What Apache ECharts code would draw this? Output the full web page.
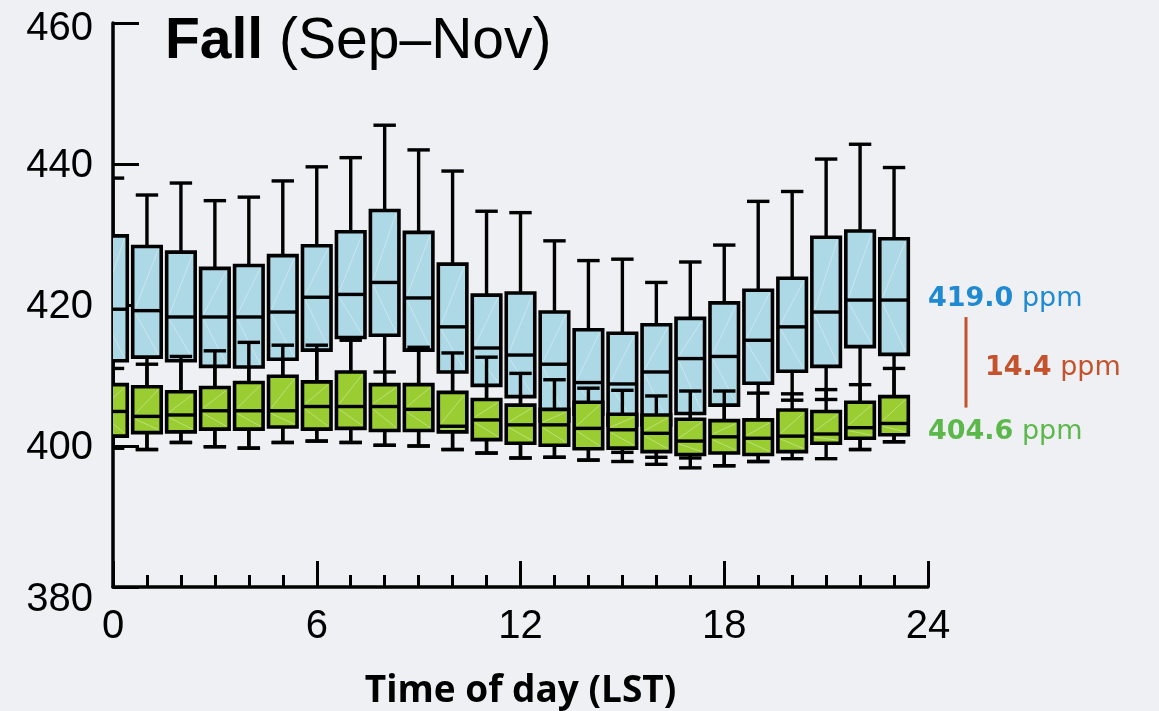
<!DOCTYPE html>
<html>
<head>
<meta charset="utf-8">
<script src="https://cdn.jsdelivr.net/npm/echarts@6/dist/echarts.min.js"></script>
<style>
  html, body { margin: 0; padding: 0; background: #eef0f3; }
  #chart { width: 1159px; height: 711px; }
</style>
</head>
<body>
<div id="chart"></div>
<script>
// Hour of day (local standard time)
const HOURS = [0, 1, 2, 3, 4, 5, 6, 7, 8, 9, 10, 11, 12, 13, 14, 15, 16, 17, 18, 19, 20, 21, 22, 23];

// Urban site CO2 (ppm): whisker ends, quartiles and medians per hour
const urbanHigh   = [438.0, 435.6, 437.3, 434.8, 435.3, 437.6, 439.6, 440.9, 445.5, 442.0, 439.0, 433.3, 433.1, 429.1, 426.3, 426.5, 423.2, 426.1, 428.5, 434.7, 436.1, 440.7, 442.8, 439.5];
const urbanQ3     = [429.8, 428.3, 427.5, 425.2, 425.6, 427.0, 428.4, 430.4, 433.4, 430.3, 425.8, 421.4, 421.7, 419.0, 416.5, 416.0, 417.2, 418.1, 420.3, 422.1, 423.8, 429.6, 430.5, 429.4];
const urbanMedian = [419.4, 419.2, 418.3, 418.3, 418.3, 419.0, 421.1, 421.5, 423.2, 421.0, 416.9, 413.9, 412.9, 411.6, 409.0, 408.8, 410.5, 412.4, 412.7, 415.0, 416.9, 419.0, 420.7, 420.7];
const urbanQ1     = [412.1, 412.6, 412.1, 411.3, 411.2, 412.3, 413.6, 415.4, 415.7, 413.6, 410.5, 408.6, 407.0, 403.5, 404.5, 403.0, 403.0, 404.6, 405.8, 408.9, 410.6, 411.3, 414.1, 413.0];
const urbanLow    = [399.7, 399.5, 400.5, 399.9, 399.7, 400.5, 400.7, 400.5, 400.1, 400.0, 399.5, 399.0, 398.3, 398.4, 398.0, 397.8, 397.4, 396.9, 397.2, 397.8, 406.5, 406.6, 399.5, 400.6];

// Background site CO2 (ppm)
const ruralHigh   = [411.0, 411.6, 412.7, 413.5, 414.7, 414.3, 414.3, 415.0, 410.5, 414.0, 413.2, 412.6, 410.3, 409.4, 408.2, 407.9, 407.1, 407.8, 407.8, 407.5, 407.4, 408.0, 408.7, 411.0];
const ruralQ3     = [408.7, 408.4, 407.7, 408.3, 409.0, 409.9, 409.1, 410.5, 408.7, 408.7, 407.6, 406.6, 405.8, 405.2, 406.2, 404.5, 404.4, 403.8, 403.6, 403.7, 405.1, 404.9, 406.2, 407.0];
const ruralMedian = [404.9, 404.2, 404.4, 405.0, 405.0, 405.0, 405.6, 405.6, 405.6, 405.2, 402.8, 403.7, 403.0, 403.0, 402.5, 402.3, 401.8, 400.7, 401.3, 401.1, 401.4, 401.7, 402.6, 403.2];
const ruralQ1     = [401.4, 401.9, 402.0, 402.4, 402.4, 402.7, 402.4, 402.5, 402.2, 402.2, 402.0, 400.9, 400.4, 400.1, 399.6, 399.7, 399.2, 398.8, 399.0, 398.8, 399.2, 400.4, 401.1, 401.6];
const ruralLow    = [399.7, 399.5, 400.5, 399.9, 399.7, 400.5, 400.7, 400.5, 400.1, 400.0, 399.5, 399.0, 398.3, 398.4, 398.0, 399.1, 398.4, 398.3, 397.2, 397.8, 398.2, 398.2, 399.5, 400.6];

// Seasonal means shown at the right
const URBAN_MEAN = 419.0;
const RURAL_MEAN = 404.6;
const MEAN_DIFF = 14.4;

// Axis ticks
const X_TICKS = [0, 6, 12, 18, 24];
const Y_TICKS = [380, 400, 420, 440, 460];

const URBAN_FILL = '#add8e6';
const RURAL_FILL = '#9acd32';

function rows(low, q1, med, q3, high) {
  return HOURS.map((h, i) => [h, low[i], q1[i], med[i], q3[i], high[i]]);
}

function boxRenderer(fill) {
  return function (params, api) {
    const x = api.value(0);
    const pLow = api.coord([x, api.value(1)]);
    const pQ1 = api.coord([x, api.value(2)]);
    const pMed = api.coord([x, api.value(3)]);
    const pQ3 = api.coord([x, api.value(4)]);
    const pHigh = api.coord([x, api.value(5)]);
    const unit = api.size([1, 0])[0];
    const bw = unit * 0.84;
    const cw = unit * 0.66;
    const cx = pQ1[0];
    const left = cx - bw / 2, right = cx + bw / 2;
    const ink = { stroke: '#000', lineWidth: 3.4 };
    const sheen = { stroke: 'rgba(255,255,255,0.35)', lineWidth: 1 };
    return {
      type: 'group',
      children: [
        { type: 'line', shape: { x1: cx, y1: pQ3[1], x2: cx, y2: pHigh[1] }, style: ink },
        { type: 'line', shape: { x1: cx - cw / 2, y1: pHigh[1], x2: cx + cw / 2, y2: pHigh[1] }, style: ink },
        { type: 'line', shape: { x1: cx, y1: pQ1[1], x2: cx, y2: pLow[1] }, style: ink },
        { type: 'line', shape: { x1: cx - cw / 2, y1: pLow[1], x2: cx + cw / 2, y2: pLow[1] }, style: ink },
        { type: 'rect', shape: { x: left, y: pQ3[1], width: bw, height: pQ1[1] - pQ3[1] },
          style: { fill: fill, stroke: '#000', lineWidth: 3.6 } },
        { type: 'line', shape: { x1: left + 3, y1: pMed[1] - 3, x2: right - 3, y2: pQ3[1] + 3 }, style: sheen },
        { type: 'line', shape: { x1: left + 3, y1: pMed[1] + 3, x2: right - 3, y2: pQ1[1] - 3 }, style: sheen },
        { type: 'line', shape: { x1: left, y1: pMed[1], x2: right, y2: pMed[1] }, style: ink }
      ]
    };
  };
}

const chart = echarts.init(document.getElementById('chart'), null, { renderer: 'canvas' });

const FONT = '"Liberation Sans", Arial, Helvetica, sans-serif';

chart.setOption({
  backgroundColor: '#eef0f3',
  animation: false,
  grid: { left: 113, top: 23, width: 815, height: 564, containLabel: false, outerBoundsMode: 'none' },
  xAxis: {
    type: 'value',
    min: X_TICKS[0],
    max: X_TICKS[X_TICKS.length - 1],
    interval: 6,
    name: 'Time of day (LST)',
    nameLocation: 'middle',
    nameGap: 86,
    nameTextStyle: { fontFamily: '"Open Sans", sans-serif', fontWeight: 'bold', fontSize: 37, color: '#000' },
    axisLine: { show: true, onZero: false, lineStyle: { color: '#000', width: 3.5 } },
    axisTick: { show: true, inside: true, length: 26, lineStyle: { color: '#000', width: 3 } },
    minorTick: { show: true, splitNumber: 6, length: 12, lineStyle: { color: '#000', width: 3 } },
    axisLabel: { fontFamily: FONT, fontSize: 40, color: '#000', margin: 20 },
    splitLine: { show: false },
    minorSplitLine: { show: false }
  },
  yAxis: {
    type: 'value',
    min: Y_TICKS[0],
    max: Y_TICKS[Y_TICKS.length - 1],
    interval: 20,
    axisLine: { show: true, onZero: false, lineStyle: { color: '#000', width: 3.5 } },
    axisTick: { show: true, inside: true, length: 26, lineStyle: { color: '#000', width: 3 } },
    axisLabel: {
      fontFamily: FONT, fontSize: 40, color: '#000', margin: 20,
      formatter: v => {
        if (v === Y_TICKS[0]) return '{low|' + v + '}';
        if (v === Y_TICKS[Y_TICKS.length - 1]) return '{top|' + v + '}';
        return '{mid|' + v + '}';
      },
      rich: {
        low: { fontFamily: FONT, fontSize: 40, color: '#000', padding: [26, 0, 0, 0] },
        mid: { fontFamily: FONT, fontSize: 40, color: '#000', padding: [4, 0, 0, 0] },
        top: { fontFamily: FONT, fontSize: 40, color: '#000', padding: [12, 0, 0, 0] }
      }
    },
    splitLine: { show: false }
  },
  series: [
    {
      name: 'Urban',
      type: 'custom',
      clip: true,
      z: 2,
      renderItem: boxRenderer(URBAN_FILL),
      encode: { x: 0, y: [1, 2, 3, 4, 5] },
      data: rows(urbanLow, urbanQ1, urbanMedian, urbanQ3, urbanHigh)
    },
    {
      name: 'Background',
      type: 'custom',
      clip: true,
      z: 3,
      renderItem: boxRenderer(RURAL_FILL),
      encode: { x: 0, y: [1, 2, 3, 4, 5] },
      data: rows(ruralLow, ruralQ1, ruralMedian, ruralQ3, ruralHigh)
    }
  ]
});

// Title and mean annotations placed from the grid's own scales
const toPx = (x, y) => chart.convertToPixel({ gridIndex: 0 }, [x, y]);
const xEnd = toPx(X_TICKS[X_TICKS.length - 1], URBAN_MEAN)[0];
const yUrban = toPx(0, URBAN_MEAN)[1];
const yRural = toPx(0, RURAL_MEAN)[1];
const ANN_FONT = '"DejaVu Sans", Verdana, sans-serif';

function meanLabel(value, color) {
  return {
    text: '{b|' + value.toFixed(1) + '}{n| ppm}',
    verticalAlign: 'middle',
    rich: {
      b: { fontFamily: ANN_FONT, fontWeight: 'bold', fontSize: 27, fill: color },
      n: { fontFamily: ANN_FONT, fontSize: 27, fill: color }
    }
  };
}

chart.setOption({
  graphic: [
    {
      type: 'text', left: 165, top: 14, z: 10,
      style: {
        text: '{b|Fall}{n| (Sep–Nov)}',
        rich: {
          b: { fontFamily: FONT, fontWeight: 'bold', fontSize: 57, fill: '#000' },
          n: { fontFamily: FONT, fontSize: 57, fill: '#000' }
        }
      }
    },
    { type: 'text', x: xEnd, y: yUrban - 13, z: 10, style: meanLabel(URBAN_MEAN, '#1f8ad2') },
    { type: 'text', x: xEnd, y: yRural + 18, z: 10, style: meanLabel(RURAL_MEAN, '#5cb84b') },
    {
      type: 'line', z: 10,
      shape: { x1: xEnd + 38, y1: yUrban + 5, x2: xEnd + 38, y2: yRural - 6 },
      style: { stroke: '#c4532d', lineWidth: 3 }
    },
    { type: 'text', x: xEnd + 57, y: (yUrban + yRural) / 2 + 5, z: 10, style: meanLabel(MEAN_DIFF, '#c4532d') }
  ]
});
</script>
</body>
</html>
